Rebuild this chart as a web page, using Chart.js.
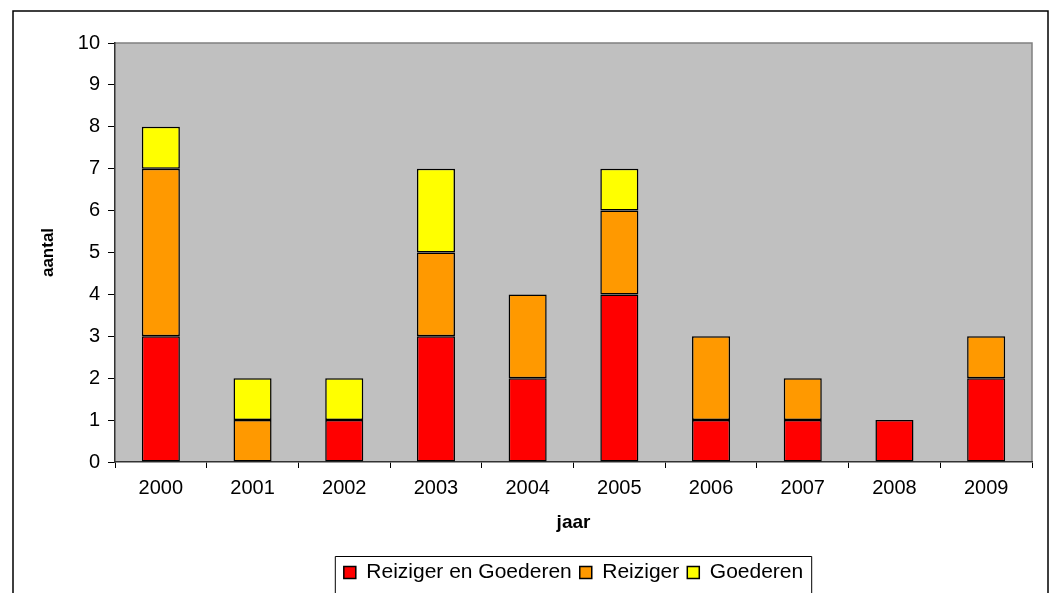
<!DOCTYPE html>
<html>
<head>
<meta charset="utf-8">
<script src="https://cdn.jsdelivr.net/npm/chart.js@4"></script>
<style>
  html, body { margin: 0; padding: 0; background: #fff; }
  #wrap { width: 1058px; height: 593px; }
</style>
</head>
<body>
<div id="wrap"><canvas id="c" width="1058" height="593"></canvas></div>
<script>
const categories = ['2000','2001','2002','2003','2004','2005','2006','2007','2008','2009'];
const reizigerEnGoederen = [3, 0, 1, 3, 2, 4, 1, 1, 1, 2];
const reiziger           = [4, 1, 0, 2, 2, 2, 2, 1, 0, 1];
const goederen           = [1, 1, 1, 2, 0, 1, 0, 0, 0, 0];
const seriesNames = ['Reiziger en Goederen', 'Reiziger', 'Goederen'];
const seriesColors = ['#FF0000', '#FF9900', '#FFFF00'];
const yTicks = [0,1,2,3,4,5,6,7,8,9,10];

const FONT = '"Liberation Sans", Arial, sans-serif';

const framePlugin = {
  id: 'frame',
  afterLayout(chart) {
    // centre the legend under the plot area rather than the whole canvas
    const lg = chart.legend, a = chart.chartArea;
    if (!lg) return;
    const dx = (a.left + a.right) / 2 - (lg.left + lg.right) / 2;
    lg.left += dx; lg.right += dx;
  },
  beforeDraw(chart) {
    const ctx = chart.ctx, a = chart.chartArea;
    ctx.save();
    ctx.fillStyle = '#fff';
    ctx.fillRect(0, 0, chart.width, chart.height);
    ctx.strokeStyle = '#000';
    ctx.lineWidth = 1.5;
    ctx.beginPath();
    ctx.moveTo(13, 600); ctx.lineTo(13, 11); ctx.lineTo(1048, 11); ctx.lineTo(1048, 600);
    ctx.stroke();
    ctx.fillStyle = '#C0C0C0';
    ctx.fillRect(a.left, a.top, a.right - a.left, a.bottom - a.top);
    ctx.strokeStyle = '#808080';
    ctx.lineWidth = 1.5;
    ctx.beginPath();
    ctx.moveTo(a.left, a.top); ctx.lineTo(a.right, a.top); ctx.lineTo(a.right, a.bottom);
    ctx.stroke();
    ctx.restore();
  },
  afterDraw(chart) {
    const lg = chart.legend;
    if (!lg || !lg.legendHitBoxes || !lg.legendHitBoxes.length) return;
    const boxes = lg.legendHitBoxes;
    let minX = Infinity, maxX = -Infinity, minY = Infinity;
    boxes.forEach(b => { minX = Math.min(minX, b.left); maxX = Math.max(maxX, b.left + b.width); minY = Math.min(minY, b.top); });
    const ctx = chart.ctx;
    ctx.save();
    ctx.strokeStyle = '#000';
    ctx.lineWidth = 1;
    ctx.beginPath();
    ctx.moveTo(minX - 8.5, 600); ctx.lineTo(minX - 8.5, minY - 5.5); ctx.lineTo(maxX + 8.5, minY - 5.5); ctx.lineTo(maxX + 8.5, 600);
    ctx.stroke();
    ctx.restore();
  }
};

const seriesData = [reizigerEnGoederen, reiziger, goederen];

new Chart(document.getElementById('c'), {
  type: 'bar',
  data: {
    labels: categories,
    datasets: seriesData.map((arr, i) => ({
      label: seriesNames[i],
      data: arr.map(v => (v === 0 ? null : v)),
      backgroundColor: seriesColors[i],
      borderColor: '#000',
      borderWidth: 1.5,
      borderSkipped: false,
      categoryPercentage: 1,
      barPercentage: 0.415
    }))
  },
  options: {
    responsive: false,
    animation: false,
    devicePixelRatio: 1,
    layout: { padding: { top: 43, right: 26, left: 0, bottom: 0 } },
    plugins: {
      tooltip: { enabled: false },
      legend: {
        position: 'bottom',
        labels: {
          color: '#000',
          font: { family: FONT, size: 21 },
          boxWidth: 12, boxHeight: 12,
          padding: 8
        }
      }
    },
    scales: {
      x: {
        stacked: true,
        grid: { display: true, drawOnChartArea: false, drawTicks: true, tickLength: 6, color: '#000', offset: true },
        border: { display: true, color: '#333', width: 1.5 },
        ticks: { color: '#000', font: { family: FONT, size: 20 }, padding: 8, maxRotation: 0 },
        title: { display: true, text: 'jaar', color: '#000', font: { family: FONT, size: 19, weight: 'bold' }, padding: { top: 0, bottom: 20 } },
        afterFit(scale) { scale.height = 92; }
      },
      y: {
        stacked: true,
        min: 0, max: 10,
        afterBuildTicks(scale) { scale.ticks = yTicks.map(v => ({ value: v })); },
        grid: { display: true, drawOnChartArea: false, drawTicks: true, tickLength: 7, color: '#000' },
        border: { display: true, color: '#333', width: 1.5 },
        ticks: { color: '#000', font: { family: FONT, size: 20 }, padding: 8 },
        title: { display: true, text: 'aantal', color: '#000', font: { family: FONT, size: 17, weight: 'bold' }, padding: { top: 38, bottom: 0 } },
        afterFit(scale) { scale.width = 115; }
      }
    }
  },
  plugins: [framePlugin]
});
</script>
</body>
</html>
